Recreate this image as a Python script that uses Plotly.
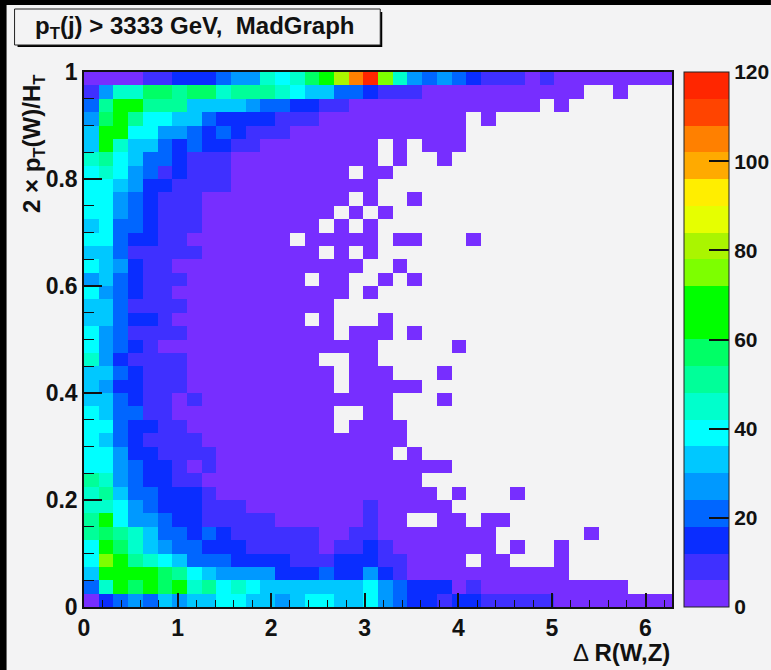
import plotly.graph_objects as go

# band index per bin (base-36 char: band i = counts in [6i, 6i+6)), '.' = empty bin; first row is y near 1
rows = [
"000011222344767" "9adhjc7" "4343" "2111" "01" "00000000",
"1" "4" "77" "99" "8" "99" "7" "888" "7" "6" "55" "33" "2" "111" "00000000000" ".." "0" "...",
"3" "8" "aa" "888" "5555" "4" "33" "22" "11" "0000000000000" "." "0" ".......",
"4" "9" "a" "8" "66" "55" "3" "2222" "111" "0000000000" "." "0" "............",
"5" "aa" "66" "44" "3" "2" "3" "2" "111" "000000000000" "..............",
"5" "a" "7" "55" "3" "2" "3" "22" "11" "00000000" "." "0" "." "000" "..............",
"7" "8" "6" "5" "33" "2" "111" "0000000000" "." "0" ".." "0" "...............",
"6" "7" "6" "4" "3" "1" "2" "111" "00000000" "." "00" "...................",
"66" "5" "4" "22" "1111" "0000000000" "....................",
"66" "4" "3" "2" "111" "0000000000" "." "0" ".." "0" ".................",
"66" "4" "3" "2" "111" "000000000" "." "0" "." "0" "...................",
"5" "6" "33" "2" "111" "00000000" "." "0" "." "0" "....................",
"66" "3" "22" "11" "0000000" "." "00000" "." "00" "..." "0" ".............",
"55" "3" "11111" "00000000" "." "0" "." "0" "....................",
"6" "5" "4" "2" "11" "0000000000000" ".." "0" "..................",
"4" "5" "3" "2" "111" "00000000" "." "00" ".." "0" "." "0" ".................",
"6" "4" "3" "2" "11" "000000000000" "." "0" "....................",
"55" "3" "1111" "0000000000" ".......................",
"55" "3" "22" "1" "000000000" "." "0" "..." "0" "...................",
"6" "4" "3" "1111" "0000000000" "." "000" "." "0" ".................",
"6" "4" "3" "2" "1" "000000000000000" "....." "0" "..............",
"7" "4" "2" "1111" "000000000" ".." "00" "....................",
"55" "3" "2" "111" "0000000000" "." "000" "..." "0" "...............",
"5" "4" "22" "111" "0000000000" "." "00000" ".................",
"55" "3" "2" "11" "0" "1" "0000000000000" "..." "0" "...............",
"6" "5" "33" "11" "00000000000" ".." "00" "...................",
"66" "3" "22" "11" "0000000000" "." "0000" "..................",
"6" "5" "3" "2" "1111" "00000000000000" "..................",
"66" "4" "22" "1111" "000000000000" "." "0" ".................",
"66" "4" "3" "22" "1" "0" "1" "0000000000000000" "...............",
"8" "7" "4" "3" "22" "11" "000000000000000" ".................",
"7" "8" "5" "33" "222" "1" "000000000000000" "." "0" "..." "0" "..........",
"77" "6" "4" "3" "222" "111" "00000000" "1" "00000" "...............",
"8" "a" "6" "44" "3" "22" "11111" "000000" "1" "00" ".." "00" "." "00" "...........",
"8" "9" "8" "7" "5" "33" "2" "3" "2" "111111" "00" "11" "00000000" "......" "0" ".....",
"6" "a" "9" "7" "5" "4" "33" "222" "11111" "0" "11" "2" "1" "0000000" "." "0" ".." "0" ".......",
"6" "c" "a" "8" "7" "6" "5" "333" "2222" "111" "22" "2" "11" "0000" "." "00" "..." "0" ".......",
"5" "aaaa" "9" "8" "6" "5" "4444" "222" "3" "22" "4" "2" "1" "00000000000" ".......",
"3" "7" "a" "9" "a" "9" "a" "7" "8" "6" "7" "6" "5555555" "6" "4" "3" "222" "0" "1" "0000000000" "...",
"0" "2" "3" "4" "3" "5" "4" "55" "66" "55" "4" "5" "66" "55" "6" "4" "3" "22" "1" "22" "11111" "00000000",
]
band_colors = ["#772eff", "#3f30ff", "#0a2dff", "#0066ff", "#0099ff", "#00c8ff", "#00ffff", "#00ffcc",
               "#00ff99", "#00ff66", "#00ff00", "#00ff00", "#7dff00", "#aaf500", "#e6ff00", "#ffee00",
               "#ffaa00", "#ff8000", "#ff4400", "#ff2600"]
x_ticks = [0, 1, 2, 3, 4, 5, 6]
y_ticks = [0, 0.2, 0.4, 0.6, 0.8, 1]
y_labels = ["0", "0.2", "0.4", "0.6", "0.8", "1"]
z_ticks = [0, 20, 40, 60, 80, 100, 120]
x_max = 6.2832
n_bins = 40
band_width = 6

FONT = "Liberation Sans"
BG = "#f3f3f4"
W, H = 771, 670
L, R, T, B = 83.5, 672, 72, 607
TICK_FONT = dict(family=FONT, size=23, color="#111", weight="bold")
CBAR_FONT = dict(family=FONT, size=21, color="#111", weight="bold")


def px(X):
    return (X - L) / (R - L)


def py(Y):
    return (B - Y) / (B - T)


def value(ch):
    return None if ch == "." else int(ch, 36) * band_width + band_width / 2


for r in rows:
    assert len(r) == n_bins, r
z = [[value(c) for c in r] for r in reversed(rows)]

scale = []
for i, c in enumerate(band_colors):
    scale.append([i / len(band_colors), c])
    scale.append([(i + 1) / len(band_colors), c])

fig = go.Figure(go.Heatmap(
    z=z, x0=x_max / n_bins / 2, dx=x_max / n_bins, y0=1 / n_bins / 2, dy=1 / n_bins,
    zmin=0, zmax=120, colorscale=scale, hoverongaps=False,
    colorbar=dict(
        x=px(684), xanchor="left", y=0.5, yanchor="middle", len=1, lenmode="fraction",
        thickness=45, thicknessmode="pixels", xpad=0, ypad=0,
        outlinecolor="#222", outlinewidth=1, bgcolor="rgba(0,0,0,0)",
        tickvals=z_ticks, ticks="inside", ticklen=20, tickcolor="#111", tickwidth=1.5,
        tickfont=CBAR_FONT,
    ),
))

fig.update_xaxes(
    range=[0, x_max], tickvals=x_ticks, ticks="inside", ticklen=14, tickcolor="#111", tickwidth=1.5,
    minor=dict(dtick=0.2, ticks="inside", ticklen=7, tickcolor="#111", tickwidth=1),
    showline=True, linecolor="#111", linewidth=1.5, mirror=True, showgrid=False, zeroline=False,
    tickfont=TICK_FONT,
)
fig.update_yaxes(
    range=[0, 1], tickvals=y_ticks, ticktext=y_labels, ticks="inside", ticklen=18, tickcolor="#111", tickwidth=1.5,
    minor=dict(dtick=0.05, ticks="inside", ticklen=10, tickcolor="#111", tickwidth=1),
    showline=True, linecolor="#111", linewidth=1.5, mirror=True, showgrid=False, zeroline=False,
    tickfont=TICK_FONT,
)

box = dict(type="rect", xref="paper", yref="paper", layer="above")
shapes = [
    dict(box, x0=px(-2), x1=px(771), y0=py(-2), y1=py(5), fillcolor="#000", line_width=0),
    dict(box, x0=px(-2), x1=px(6), y0=py(-2), y1=py(672), fillcolor="#000", line_width=0),
    dict(box, x0=px(17), x1=px(382), y0=py(12), y1=py(47), fillcolor="#000", line_width=0),
    dict(box, x0=px(14), x1=px(380), y0=py(9), y1=py(45), fillcolor=BG, line=dict(color="#222", width=1)),
]
annotations = [
    dict(text="<b>p<sub>T</sub>(j) > 3333 GeV,  MadGraph</b>", x=px(195), y=py(27), xanchor="center", yanchor="middle",
         font=dict(family=FONT, size=24, color="#111")),
    dict(text="<b>2 × p<sub>T</sub>(W)/H<sub>T</sub></b>", x=px(33), y=py(72), xanchor="center", yanchor="top",
         textangle=-90, font=dict(family=FONT, size=24, color="#111")),
    dict(text="Δ <b>R(W,Z)</b>", x=px(672), y=py(652), xanchor="right", yanchor="middle",
         font=dict(family=FONT, size=24, color="#111")),
]
for a in annotations:
    a.update(xref="paper", yref="paper", showarrow=False)

fig.update_layout(
    width=W, height=H, paper_bgcolor=BG, plot_bgcolor=BG,
    margin=dict(l=L, r=W - R, t=T, b=H - B, pad=0, autoexpand=False),
    shapes=shapes, annotations=annotations, showlegend=False,
)
fig.write_html("out.html", config=dict(displayModeBar=False),
               post_script="document.body.style.margin='0';document.body.style.background='#f3f3f4';")
